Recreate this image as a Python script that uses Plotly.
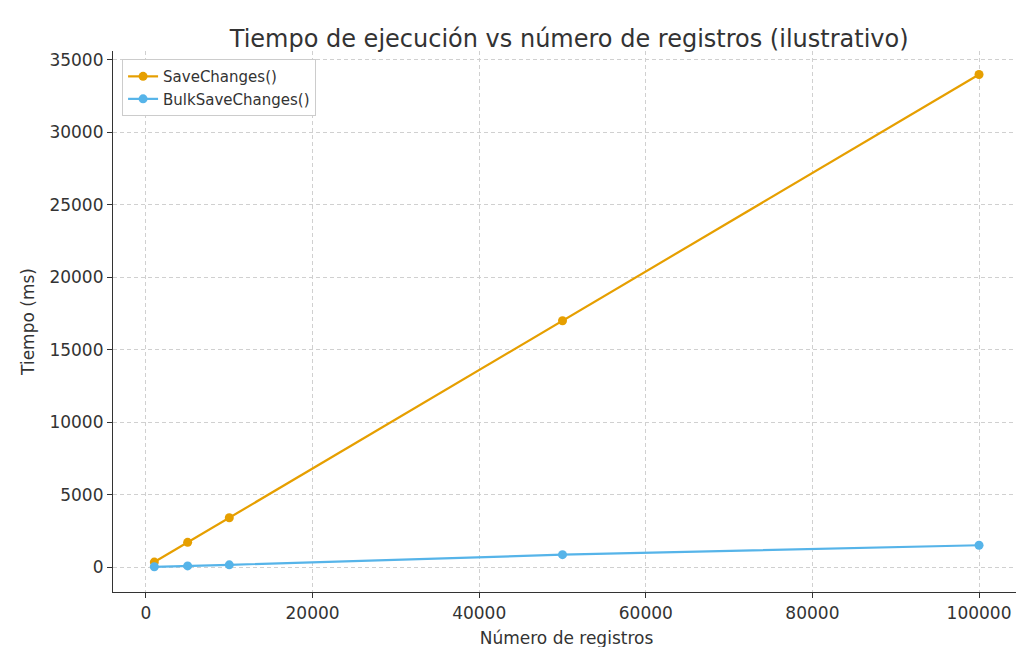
import plotly.graph_objects as go

registros = [1000, 5000, 10000, 50000, 100000]
save_changes = [340, 1700, 3400, 17000, 34000]
bulk_save_changes = [15, 75, 150, 850, 1500]

fig = go.Figure()
fig.add_trace(go.Scatter(x=registros, y=save_changes, mode="lines+markers", name="SaveChanges()",
                         line=dict(color="#E69F00", width=2.2), marker=dict(size=9, color="#E69F00")))
fig.add_trace(go.Scatter(x=registros, y=bulk_save_changes, mode="lines+markers", name="BulkSaveChanges()",
                         line=dict(color="#56B4E9", width=2.2), marker=dict(size=9, color="#56B4E9")))

axis_common = dict(showgrid=True, gridcolor="#d0d0d0", griddash="4px,3px", gridwidth=1,
                   showline=True, linecolor="#333", linewidth=1.2, ticks="outside", ticklen=5,
                   tickcolor="#333", zeroline=False, tickfont=dict(size=17, color="#333"),
                   tickformat="d", mirror=False, automargin=False)
fig.update_layout(
    width=1024, height=647, plot_bgcolor="white", paper_bgcolor="white",
    font=dict(family="DejaVu Sans", color="#333"),
    title=dict(text="Tiempo de ejecución vs número de registros (ilustrativo)", x=0.548, xanchor="center",
               y=0.965, font=dict(size=24, color="#333"), automargin=False),
    margin=dict(l=105, r=12, t=43, b=63),
    xaxis=dict(range=[-3960, 104920], dtick=20000,
               title=dict(text="Número de registros", font=dict(size=17), standoff=10), **axis_common),
    yaxis=dict(range=[-1726, 35620], dtick=5000,
               title=dict(text="Tiempo (ms)", font=dict(size=17), standoff=10), **axis_common),
    legend=dict(x=0.01, y=0.985, xanchor="left", yanchor="top", bgcolor="white",
                bordercolor="#ccc", borderwidth=1, font=dict(size=15, color="#333")),
)
fig.write_html("out.html")
